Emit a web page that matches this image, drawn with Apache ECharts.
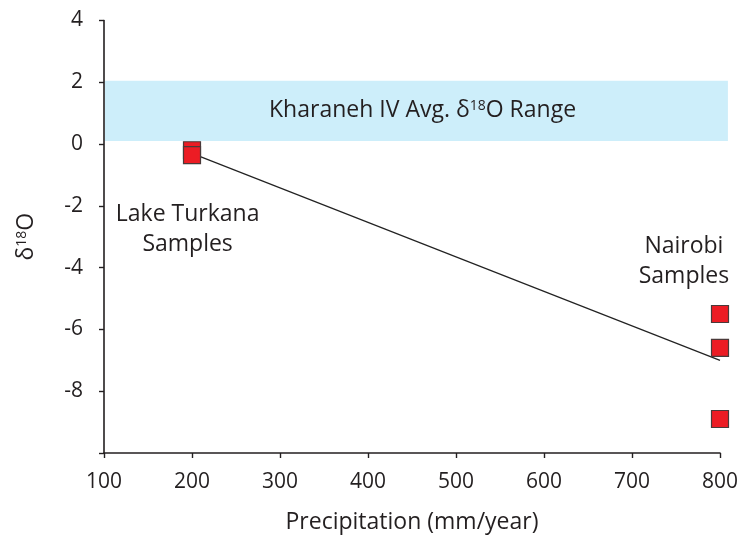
<!DOCTYPE html>
<html>
<head>
<meta charset="utf-8">
<script src="https://cdn.jsdelivr.net/npm/echarts@6/dist/echarts.min.js"></script>
<style>html,body{margin:0;padding:0;background:#fff}#c{width:738px;height:536px}</style>
</head>
<body>
<div id="c"></div>
<script>
// Oxygen isotope values against annual precipitation
const turkanaPrecip = [200, 200];
const turkanaD18O = [-0.2, -0.36];
const nairobiPrecip = [800, 800, 800];
const nairobiD18O = [-5.5, -6.6, -8.9];
const trendPrecip = [200, 800];
const trendD18O = [-0.3, -7.0];
const bandRange = [0.1, 2.05];      // Kharaneh IV average range
const bandPrecip = [100, 809];
const xTicks = [100, 200, 300, 400, 500, 600, 700, 800];
const yTicks = [-10, -8, -6, -4, -2, 0, 2, 4];

const FONT = '"Open Sans", "Noto Sans", sans-serif';
const INK = '#231f20';
const TEXT_SIZE = 23;
const TICK_SIZE = 21;

const chart = echarts.init(document.getElementById('c'), null, {renderer: 'canvas'});

const pts = (xs, ys) => xs.map((x, i) => [x, ys[i]]);

chart.setOption({
  animation: false,
  backgroundColor: '#fff',
  grid: {left: 104, right: 18, top: 20.5, bottom: 83, containLabel: false, outerBoundsMode: 'none'},
  xAxis: {
    type: 'value', min: xTicks[0], max: xTicks[xTicks.length - 1], interval: 100,
    name: 'Precipitation (mm/year)', nameLocation: 'middle', nameGap: 58,
    nameTextStyle: {fontFamily: FONT, fontSize: TEXT_SIZE, color: INK},
    axisLine: {onZero: false, lineStyle: {color: INK, width: 1.6}},
    axisTick: {show: true, length: 5, inside: false, lineStyle: {color: INK, width: 1.4}},
    axisLabel: {fontFamily: FONT, fontSize: TICK_SIZE, color: INK, margin: 19},
    splitLine: {show: false}
  },
  yAxis: {
    type: 'value', min: yTicks[0], max: yTicks[yTicks.length - 1], interval: 2,
    name: '{d|δ}{s|18}{d|O}', nameLocation: 'middle', nameGap: 66, nameRotate: 90,
    nameTextStyle: {
      fontFamily: FONT, color: INK,
      rich: {
        d: {fontFamily: FONT, fontSize: TEXT_SIZE, color: INK},
        s: {fontFamily: FONT, fontSize: 14, color: INK, verticalAlign: 'top', padding: [0, 0, 9, 0]}
      }
    },
    axisLine: {show: true, onZero: false, lineStyle: {color: INK, width: 1.6}},
    axisTick: {show: true, length: 5, inside: false, lineStyle: {color: INK, width: 1.4}},
    axisLabel: {
      fontFamily: FONT, fontSize: TICK_SIZE, color: INK, margin: 21,
      formatter: v => (v === -10 ? '' : String(v))
    },
    splitLine: {show: false}
  },
  series: [
    {
      type: 'line', name: 'trend', data: pts(trendPrecip, trendD18O),
      showSymbol: false, symbol: 'none', silent: true,
      lineStyle: {color: '#222', width: 1.2}, z: 3
    },
    {
      type: 'scatter', name: 'Lake Turkana', data: pts(turkanaPrecip, turkanaD18O),
      symbol: 'rect', symbolSize: 17,
      itemStyle: {color: '#ec1c24', borderColor: '#4a3a3a', borderWidth: 1.2, opacity: 1},
      z: 4
    },
    {
      type: 'scatter', name: 'Nairobi', data: pts(nairobiPrecip, nairobiD18O),
      symbol: 'rect', symbolSize: 17,
      itemStyle: {color: '#ec1c24', borderColor: '#4a3a3a', borderWidth: 1.2, opacity: 1},
      z: 4
    }
  ]
});

// Shaded range and group labels, positioned through the axes
function placeOverlays() {
  const p0 = chart.convertToPixel({gridIndex: 0}, [bandPrecip[0], bandRange[1]]);
  const p1 = chart.convertToPixel({gridIndex: 0}, [bandPrecip[1], bandRange[0]]);
  const mid = chart.convertToPixel({gridIndex: 0}, [462, (bandRange[0] + bandRange[1]) / 2]);
  const a = chart.convertToPixel({gridIndex: 0}, [195, -2.76]);
  const b = chart.convertToPixel({gridIndex: 0}, [759, -3.8]);
  const txt = (x, y, text) => ({
    type: 'text', x, y, z: 10, style: {
      text, fontFamily: FONT, fontSize: TEXT_SIZE, fill: INK,
      align: 'center', verticalAlign: 'middle', lineHeight: 30}
  });
  chart.setOption({
    graphic: [
      {type: 'rect', z: -1, silent: true,
        shape: {x: p0[0] + 1, y: p0[1], width: p1[0] - p0[0] - 1, height: p1[1] - p0[1]},
        style: {fill: '#cdeefa'}},
      {type: 'text', x: mid[0], y: mid[1], z: 10, style: {
        text: '{t|Kharaneh IV Avg. δ}{s|18}{t|O Range}',
        align: 'center', verticalAlign: 'middle',
        rich: {
          t: {fontFamily: FONT, fontSize: TEXT_SIZE, fill: INK},
          s: {fontFamily: FONT, fontSize: 14, fill: INK, verticalAlign: 'top', padding: [0, 0, 9, 0]}
        }}},
      txt(a[0], a[1], 'Lake Turkana\nSamples'),
      txt(b[0], b[1], 'Nairobi\nSamples')
    ]
  });
}
placeOverlays();
</script>
</body>
</html>
